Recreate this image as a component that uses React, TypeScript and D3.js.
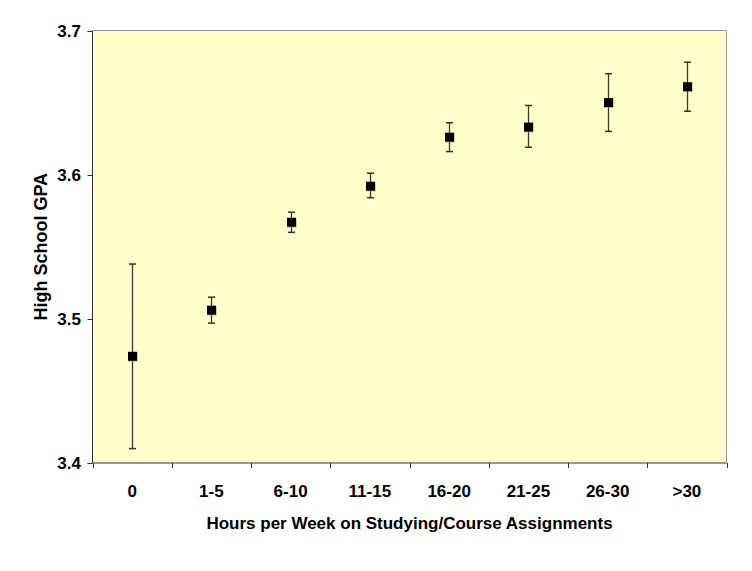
import React from "react";
import * as d3 from "d3";

const categories = ["0", "1-5", "6-10", "11-15", "16-20", "21-25", "26-30", ">30"];
const means = [3.474, 3.506, 3.567, 3.592, 3.626, 3.633, 3.650, 3.661];
const upper = [3.538, 3.515, 3.574, 3.601, 3.636, 3.648, 3.670, 3.678];
const lower = [3.410, 3.497, 3.560, 3.584, 3.616, 3.619, 3.630, 3.644];
const yTicks = [3.4, 3.5, 3.6, 3.7];
const yGrid = [3.5, 3.6];

const W = 752, H = 571;
const left = 92.5, right = 726.5, top = 30.5, bottom = 463;
const font = "'Liberation Sans', Arial, sans-serif";

export default function App() {
  const x = d3.scaleBand<string>().domain(categories).range([left, right]);
  const y = d3.scaleLinear().domain([3.4, 3.7]).range([bottom, top]);
  const bw = x.bandwidth();
  const boundaries = categories.map((c) => x(c)!).concat([right]);
  return (
    <svg width={W} height={H} style={{ position: "absolute", left: 0, top: 0, background: "#fff" }}>
      <rect x={left} y={top} width={right - left} height={bottom - top} fill="#FFFFCC" />
      {yGrid.map((t) => (
        <line key={t} x1={left} x2={right} y1={Math.round(y(t)) + 0.5} y2={Math.round(y(t)) + 0.5} stroke="#fff" strokeWidth={1} />
      ))}
      <line x1={left} x2={right} y1={top} y2={top} stroke="#999" strokeWidth={1} />
      <line x1={right} x2={right} y1={top} y2={bottom} stroke="#999" strokeWidth={1} />
      <line x1={left} x2={left} y1={top} y2={bottom} stroke="#333" strokeWidth={1} />
      <line x1={left} x2={right} y1={bottom} y2={bottom} stroke="#333" strokeWidth={1} />
      {yTicks.map((t) => (
        <g key={t}>
          <line x1={left - 5} x2={left} y1={Math.round(y(t)) + 0.5} y2={Math.round(y(t)) + 0.5} stroke="#333" />
          <text x={81} y={y(t)} dy="0.36em" textAnchor="end" fontFamily={font} fontWeight="bold" fontSize={17} fill="#000">
            {t.toFixed(1)}
          </text>
        </g>
      ))}
      {boundaries.map((b, i) => (
        <line key={i} x1={Math.round(b) + 0.5} x2={Math.round(b) + 0.5} y1={bottom} y2={bottom + 5} stroke="#333" />
      ))}
      {categories.map((c) => (
        <text key={c} x={x(c)! + bw / 2} y={497} textAnchor="middle" fontFamily={font} fontWeight="bold" fontSize={17} fill="#000">
          {c}
        </text>
      ))}
      {categories.map((c, i) => {
        const cx = Math.round(x(c)! + bw / 2) + 0.5;
        return (
          <g key={c}>
            <line x1={cx} x2={cx} y1={y(upper[i])} y2={y(lower[i])} stroke="#3a3a2a" strokeWidth={1.3} />
            <line x1={cx - 3.5} x2={cx + 3.5} y1={y(upper[i])} y2={y(upper[i])} stroke="#333" strokeWidth={1.5} />
            <line x1={cx - 3.5} x2={cx + 3.5} y1={y(lower[i])} y2={y(lower[i])} stroke="#333" strokeWidth={1.5} />
            <rect x={cx - 4.5} y={y(means[i]) - 4.5} width={9.5} height={9.5} fill="#999" opacity={0.5} transform="translate(0.5,0.5)" />
            <rect x={cx - 4.5} y={y(means[i]) - 4.5} width={9} height={9} fill="#000" />
          </g>
        );
      })}
      <text x={(left + right) / 2} y={529} textAnchor="middle" fontFamily={font} fontWeight="bold" fontSize={17} fill="#000">
        Hours per Week on Studying/Course Assignments
      </text>
      <text transform={`translate(47,${(top + bottom) / 2}) rotate(-90)`} textAnchor="middle" fontFamily={font} fontWeight="bold" fontSize={18} fill="#000">
        High School GPA
      </text>
    </svg>
  );
}
